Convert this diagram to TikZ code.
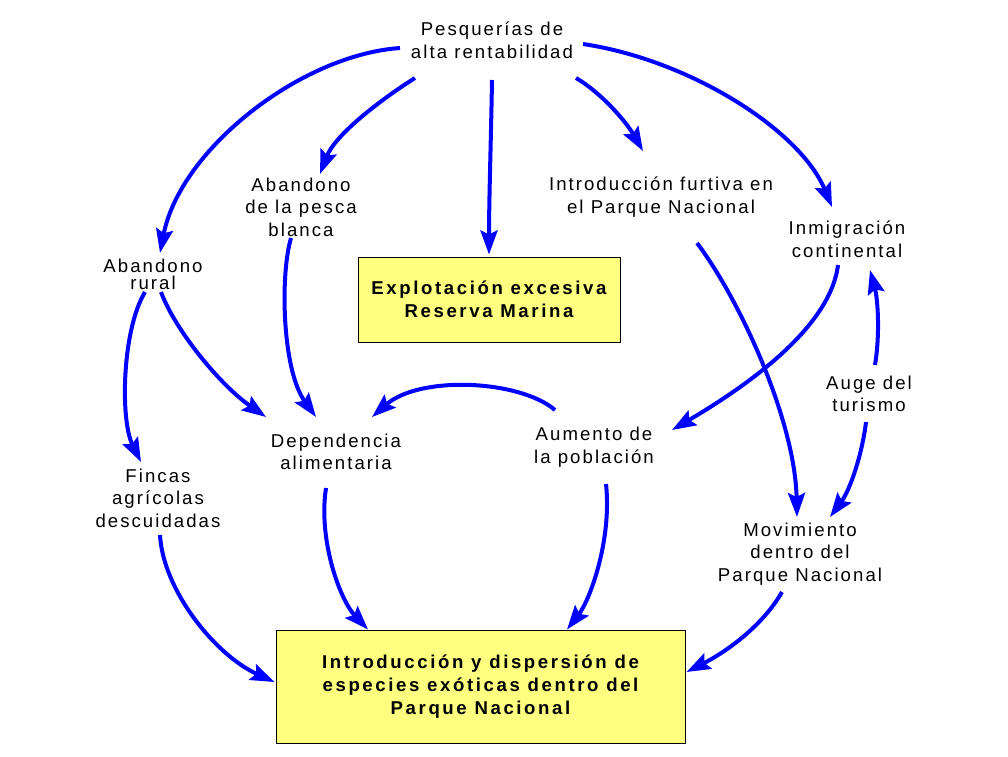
\documentclass[tikz,border=0pt]{standalone}
\usepackage{fontspec}
\newfontfamily\labfont[LetterSpace=11]{Liberation Sans}
\newfontfamily\boxfont[LetterSpace=14]{Liberation Sans}
\usetikzlibrary{arrows.meta}
\definecolor{boxyellow}{RGB}{255,255,128}
\definecolor{arrblue}{RGB}{0,0,255}
\tikzset{
  lab/.style={align=center,font=\labfont\fontsize{18.6}{22.5}\selectfont,inner sep=0pt},
  tightlab/.style={align=center,font=\labfont\fontsize{18.6}{17}\selectfont,inner sep=0pt},
  ybox/.style={draw=black,line width=1pt,fill=boxyellow,align=center,
    font=\boxfont\bfseries\fontsize{18.6}{23}\selectfont,inner sep=0pt},
  arr/.style={draw=arrblue,line width=4pt,-{Stealth[length=24pt,width=17pt,inset=4pt]}}
}
\begin{document}
\begin{tikzpicture}[x=1pt,y=-1pt]
\useasboundingbox (0,0) rectangle (1008,756);
% nodes
\node[lab] (P) at (492,40) {Pesquerías de\\alta rentabilidad};
\node[lab] (AP) at (301,207) {Abandono\\de la pesca\\blanca};
\node[lab] (IF) at (661,197) {Introducción furtiva en\\el Parque Nacional};
\node[lab] (IM) at (847,239) {Inmigración\\continental};
\node[tightlab] (AR) at (153,274) {Abandono\\rural};
\node[ybox,minimum width=262pt,minimum height=85pt] (EX) at (489,299.5) {Explotación excesiva\\Reserva Marina};
\node[lab] (D) at (336,452) {Dependencia\\alimentaria};
\node[lab] (AU) at (594,447) {Aumento de\\la población};
\node[lab] (AT) at (869,394) {Auge del\\turismo};
\node[lab] (F) at (158,498) {Fincas\\agrícolas\\descuidadas};
\node[lab] (M) at (800,554) {Movimiento\\dentro del\\Parque Nacional};
\node[ybox,minimum width=409pt,minimum height=113pt] (B) at (480.5,686.5) {Introducción y dispersión de\\especies exóticas dentro del\\Parque Nacional};
% connectors
\draw[arr] ([shift={(-92,8)}]P.center) .. controls (300,55) and (180,150) .. ([shift={(7,-21)}]AR.center);
\draw[arr] ([shift={(-77,38)}]P.center) .. controls (380,100) and (335,135) .. ([shift={(19,-33)}]AP.center);
\draw[arr] ([shift={(0,40)}]P.center) .. controls (491,140) and (489,200) .. ([shift={(0,-2)}]EX.north);
\draw[arr] ([shift={(84,38)}]P.center) .. controls (600,92) and (625,120) .. ([shift={(-18,-46)}]IF.center);
\draw[arr] ([shift={(91,4)}]P.center) .. controls (690,60) and (800,130) .. ([shift={(-15,-32)}]IM.center);
\draw[arr] ([shift={(-8,18)}]AR.center) .. controls (122,330) and (120,420) .. ([shift={(-17,-36)}]F.center);
\draw[arr] ([shift={(8,18)}]AR.center) .. controls (175,330) and (220,385) .. ([shift={(-70,-35)}]D.center);
\draw[arr] ([shift={(-10,31)}]AP.center) .. controls (280,275) and (282,370) .. ([shift={(-20,-35)}]D.center);
\draw[arr] ([shift={(36,46)}]IF.center) .. controls (740,300) and (795,420) .. ([shift={(-3,-37)}]M.center);
\draw[arr] ([shift={(-9,26)}]IM.center) .. controls (830,330) and (740,390) .. ([shift={(78,-17)}]AU.center);
\draw[arr] ([shift={(6,-29)}]AT.center) .. controls (880,335) and (878,300) .. ([shift={(23,31)}]IM.center);
\draw[arr] ([shift={(-3,28)}]AT.center) .. controls (862,455) and (850,490) .. ([shift={(30,-37)}]M.center);
\draw[arr] ([shift={(-39,-37)}]AU.center) .. controls (520,380) and (420,375) .. ([shift={(36,-35)}]D.center);
\draw[arr] ([shift={(2,37)}]F.center) .. controls (163,590) and (215,655) .. ([shift={(-1,-4.5)}]B.west);
\draw[arr] ([shift={(-10,36)}]D.center) .. controls (318,540) and (340,600) .. ([shift={(-112.5,0)}]B.north);
\draw[arr] ([shift={(12,37)}]AU.center) .. controls (612,540) and (590,600) .. ([shift={(86.5,0)}]B.north);
\draw[arr] ([shift={(-18,38)}]M.center) .. controls (760,630) and (720,655) .. ([shift={(1,-14.5)}]B.east);
\end{tikzpicture}
\end{document}
